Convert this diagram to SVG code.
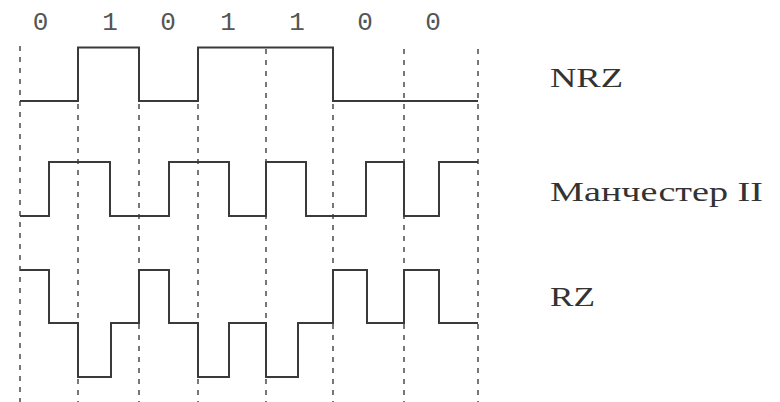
<svg xmlns="http://www.w3.org/2000/svg" width="780" height="402" viewBox="0 0 780 402">
<style>
.grid{stroke:#555;stroke-width:1.6;stroke-dasharray:5 6;fill:none}
.sig{stroke:#3a3a3a;stroke-width:2;fill:none;stroke-linejoin:miter}
.bit{font-family:"Liberation Mono",monospace;font-size:26px;fill:#555;text-anchor:middle}
.lbl{font-family:"Liberation Serif","Times New Roman",serif;font-size:28px;fill:#333}
</style>
<rect width="780" height="402" fill="#fff"/>
<g id="bits">
<text class="bit" x="40.5" y="30">0</text>
<text class="bit" x="110" y="30">1</text>
<text class="bit" x="168" y="30">0</text>
<text class="bit" x="228" y="30">1</text>
<text class="bit" x="297" y="30">1</text>
<text class="bit" x="365" y="30">0</text>
<text class="bit" x="433" y="30">0</text>
</g>
<g id="grid">
<line class="grid" x1="20" y1="46" x2="20" y2="402"/>
<line class="grid" x1="78" y1="49" x2="78" y2="402"/>
<line class="grid" x1="139" y1="49" x2="139" y2="402"/>
<line class="grid" x1="198" y1="49" x2="198" y2="402"/>
<line class="grid" x1="266" y1="49" x2="266" y2="402"/>
<line class="grid" x1="333" y1="49" x2="333" y2="402"/>
<line class="grid" x1="404" y1="49" x2="404" y2="402"/>
<line class="grid" x1="478" y1="49" x2="478" y2="402"/>
</g>
<g id="nrz">
<path class="sig" d="M20,101 H78 V47.5 H139 V101 H198 V47.5 H333 V101 H478"/>
<text class="lbl" x="550" y="87" textLength="73" lengthAdjust="spacingAndGlyphs">NRZ</text>
</g>
<g id="manchester">
<path class="sig" d="M20,216 H49 V162 H110 V216 H169 V162 H229 V216 H266 V162 H306 V216 H366 V162 H404 V216 H439 V162 H478"/>
<text class="lbl" x="550" y="201" textLength="213" lengthAdjust="spacingAndGlyphs">Манчестер II</text>
</g>
<g id="rz">
<path class="sig" d="M20,270 H49 V323 H78 V377 H111 V323 H139 V270 H169 V323 H198 V377 H229 V323 H266 V377 H298 V323 H333 V270 H367 V323 H404 V270 H439 V323 H478"/>
<text class="lbl" x="550" y="306" textLength="45" lengthAdjust="spacingAndGlyphs">RZ</text>
</g>
</svg>
